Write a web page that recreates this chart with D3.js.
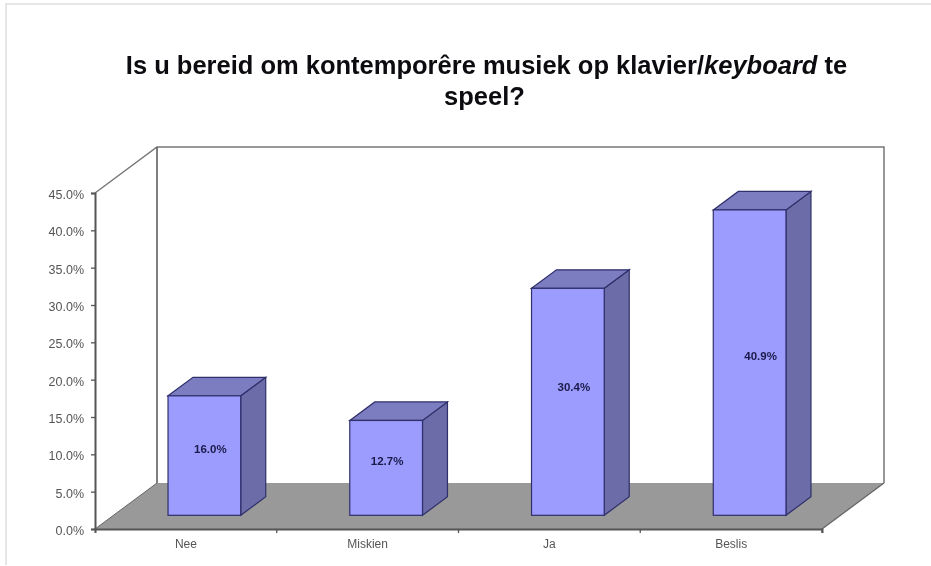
<!DOCTYPE html>
<html><head><meta charset="utf-8">
<script src="https://cdn.jsdelivr.net/npm/d3@7/dist/d3.min.js"></script>
<style>html,body{margin:0;padding:0;background:#fff;overflow:hidden}svg{display:block;filter:blur(0.45px)}</style>
</head><body><svg id="c" width="931" height="566"></svg>
<script>
const categories = ["Nee","Miskien","Ja","Beslis"];
const seriesValues = [16.0,12.7,30.4,40.9];
const tickValues = [0,5,10,15,20,25,30,35,40,45];
const svg = d3.select("#c").style("font-family","'Liberation Sans',Arial,sans-serif");
const x0=95,x1=822,yB=529,yT=193,dx=62,dy=-46;
const y=d3.scaleLinear().domain([0,45]).range([yB,yT]);
const x=d3.scaleBand().domain(categories).range([x0,x1]).paddingInner(0.6).paddingOuter(0.3);
// page frame
svg.append("path").attr("d","M6,565V4H931").attr("fill","none").attr("stroke","#e6e6e6").attr("stroke-width",2);
// title
const t=svg.append("text").attr("text-anchor","middle").attr("font-size",25.5).attr("font-weight","bold").attr("fill","#0c0c10");
const l1=t.append("tspan").attr("x",486.5).attr("y",74);
l1.append("tspan").text("Is u bereid om kontemporêre musiek op klavier/");
l1.append("tspan").attr("font-style","italic").text("keyboard");
l1.append("tspan").text(" te");
t.append("tspan").attr("x",484.5).attr("y",105).text("speel?");
const wall="#777";
// floor
svg.append("path").attr("d",`M${x0},${yB}L${x0+dx},${yB+dy}H${x1+dx}L${x1},${yB}Z`).attr("fill","#999");
// walls
svg.append("path").attr("d",`M${x0},${yT}L${x0+dx},${yT+dy}H${x1+dx}V${yB+dy}`).attr("fill","none").attr("stroke",wall).attr("stroke-width",1.5);
svg.append("path").attr("d",`M${x0+dx},${yT+dy}V${yB+dy}`).attr("stroke","#555").attr("stroke-width",1.5);
svg.append("path").attr("d",`M${x1},${yB}L${x1+dx},${yB+dy}`).attr("stroke","#666").attr("stroke-width",1.3);
svg.append("path").attr("d",`M${x0},${yB}L${x0+dx},${yB+dy}`).attr("stroke","#666");
// axes
const ya=svg.append("g").attr("transform",`translate(${x0},0)`).call(d3.axisLeft(y).tickValues(tickValues).tickFormat(d=>d.toFixed(1)+"%").tickSize(4).tickPadding(7));
const xa=svg.append("g").attr("transform",`translate(0,${yB})`).call(d3.axisBottom(x).tickSize(0).tickSizeOuter(4).tickPadding(10));
xa.selectAll(".tick").append("line").attr("x1",x.step()/2).attr("x2",x.step()/2).attr("y2",4);
[ya,xa].forEach(g=>{g.selectAll("text").attr("font-size",12).attr("fill","#555").style("font-family","'Liberation Sans',Arial,sans-serif");
 g.selectAll("line").attr("stroke","#555").attr("stroke-width",1.3);g.select(".domain").attr("stroke","#555").attr("stroke-width",2);});
ya.selectAll("text").attr("dy","0.45em").attr("font-size",12.5);
// bars
const bx=d=>x(d)+18.5, by=13.7, bw=x.bandwidth(), ddx=25, ddy=-18.5;
const barTop=i=>y(seriesValues[i])-by, base=y(0)-by;
// the printed percentages sit off-centre in the source picture
const labelDx=d=>({Nee:6,Miskien:1,Ja:6,Beslis:11})[d], labelDy=d=>d==="Ja"?-15:-7;
const g=svg.append("g").selectAll("g").data(categories).join("g");
const ln="#2f2f6b";
g.append("path").attr("d",(d,i)=>{const X=bx(d)+bw;return `M${X},${barTop(i)}l${ddx},${ddy}V${base+ddy}L${X},${base}Z`}).attr("fill","#6c6ca8").attr("stroke",ln).attr("stroke-width",1.2);
g.append("path").attr("d",(d,i)=>`M${bx(d)},${barTop(i)}l${ddx},${ddy}h${bw}l${-ddx},${-ddy}Z`).attr("fill","#7c7cc0").attr("stroke",ln).attr("stroke-width",1.2);
g.append("rect").attr("x",d=>bx(d)).attr("y",(d,i)=>barTop(i)).attr("width",bw).attr("height",(d,i)=>base-barTop(i)).attr("fill","#9c9cff").attr("stroke",ln).attr("stroke-width",1.2);
g.append("text").attr("x",d=>bx(d)+bw/2+labelDx(d)).attr("y",(d,i)=>(barTop(i)+base)/2+labelDy(d)).attr("dy","0.35em").attr("text-anchor","middle").attr("font-size",11.5).attr("font-weight","bold").attr("fill","#1a1a4a").text((d,i)=>seriesValues[i].toFixed(1)+"%");
</script></body></html>
